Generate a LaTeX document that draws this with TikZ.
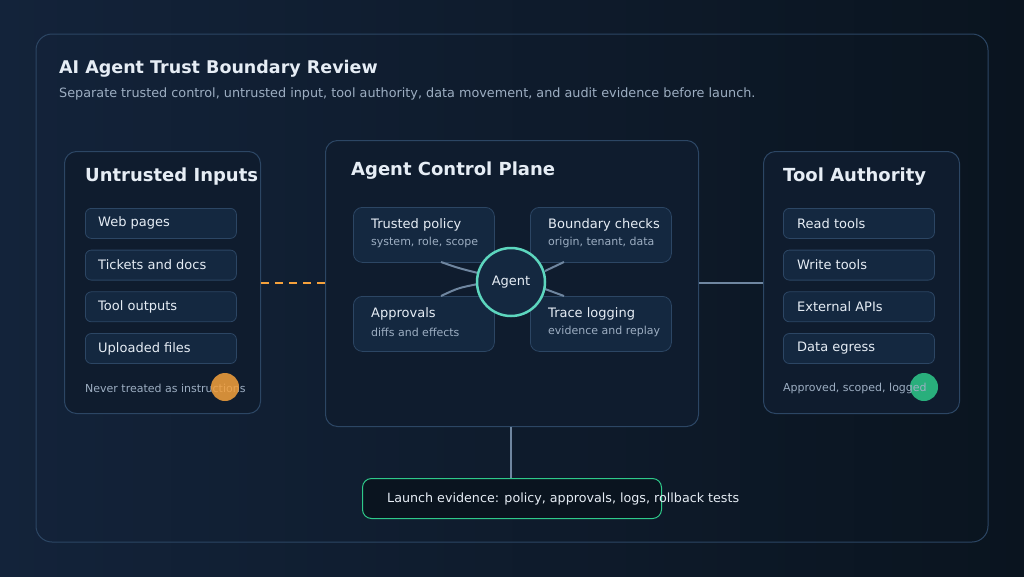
\documentclass[tikz,border=0pt]{standalone}
\usepackage{fontspec}
\setmainfont{DejaVu Sans}
\usetikzlibrary{positioning, calc, shadings}
\definecolor{bgdark}{HTML}{0A141F}
\definecolor{bgmid}{HTML}{13233A}
\definecolor{panelfill}{HTML}{0F1C2E}
\definecolor{boxfill}{HTML}{142840}
\definecolor{edge}{HTML}{2C4664}
\definecolor{txt}{HTML}{E6EDF5}
\definecolor{subtxt}{HTML}{9DAEC2}
\definecolor{link}{HTML}{6F86A0}
\definecolor{teal}{HTML}{5DD6BE}
\definecolor{okgreen}{HTML}{2EC98A}
\definecolor{warn}{HTML}{F5A13C}
\tikzset{
  panel/.style={draw=edge, line width=1pt, fill=panelfill, rounded corners=12pt, anchor=north west, inner sep=0pt},
  item/.style={draw=edge, line width=0.8pt, fill=boxfill, rounded corners=6pt, anchor=north west, minimum width=151pt, minimum height=30pt, inner sep=0pt},
  itemtext/.style={text=txt, font=\fontsize{13}{15}\selectfont, anchor=west, inner sep=0pt},
  sub/.style={draw=edge, line width=0.8pt, fill=boxfill, rounded corners=9pt, anchor=north west, minimum width=141pt, minimum height=55pt, inner sep=0pt},
  heading/.style={text=txt, font=\bfseries\fontsize{18}{21}\selectfont, anchor=west, inner sep=0pt},
  note/.style={text=subtxt, font=\fontsize{11}{13}\selectfont, anchor=west, inner sep=0pt},
  spoke/.style={draw=link, line width=2pt},
}
\begin{document}
\begin{tikzpicture}[x=1pt, y=-1pt]
\shade[left color=bgmid, right color=bgdark] (0,0) rectangle (1024,576);
\useasboundingbox (0,0) rectangle (1024,576);
\draw[edge, line width=1pt, rounded corners=16pt] (36,34) rectangle (988,542);
\node[anchor=west, inner sep=0pt, text=txt, font=\bfseries\fontsize{17.5}{20}\selectfont] (title) at (59,69) {AI Agent Trust Boundary Review};
\node[anchor=west, inner sep=0pt, text=subtxt, font=\fontsize{12.8}{15}\selectfont] (subtitle) at (59,94) {Separate trusted control, untrusted input, tool authority, data movement, and audit evidence before launch.};

% left panel
\node[panel, minimum width=196pt, minimum height=262pt] (inputs) at (64,151) {};
\node[heading] at (85,177) {Untrusted Inputs};
\foreach \t [count=\i] in {Web pages, Tickets and docs, Tool outputs, Uploaded files} {
  \node[item] (in\i) at (85,{208+41.7*(\i-1)}) {};
  \node[itemtext] at ([xshift=13pt]in\i.west) {\t};
}
\node[note] (innote) at (85,388) {Never treated as instructions};
\fill[warn, opacity=0.85] (225,387) circle (14pt);

% right panel
\node[panel, minimum width=196pt, minimum height=262pt] (tools) at (763,151) {};
\node[heading] at (783,177) {Tool Authority};
\foreach \t [count=\i] in {Read tools, Write tools, External APIs, Data egress} {
  \node[item] (tl\i) at (783,{208+41.7*(\i-1)}) {};
  \node[itemtext] at ([xshift=14pt]tl\i.west) {\t};
}
\fill[okgreen, opacity=0.85] (924,387) circle (14pt);
\node[note] (toolnote) at (783,388) {Approved, scoped, logged};

% center panel
\node[panel, minimum width=373pt, minimum height=286pt] (plane) at (325,140) {};
\node[heading] at (351,171) {Agent Control Plane};
\node[sub] (policy) at (353,207) {};
\node[sub] (checks) at (530,207) {};
\node[sub] (approvals) at (353,296) {};
\node[sub] (trace) at (530,296) {};
\foreach \n/\a/\b in {policy/Trusted policy/{system, role, scope}, checks/Boundary checks/{origin, tenant, data}, approvals/Approvals/diffs and effects, trace/Trace logging/evidence and replay} {
  \node[itemtext] at ([xshift=18pt, yshift=10pt]\n.west) {\a};
  \node[note] at ([xshift=18pt, yshift=-8pt]\n.west) {\b};
}
\draw[spoke] (441,262) .. controls (458,268) .. (478,273);
\draw[spoke] (441,296) .. controls (458,288) .. (478,284);
\draw[spoke] (564,262) .. controls (555,266) .. (545,271);
\draw[spoke] (564,296) .. controls (555,292) .. (545,289);
\node[circle, draw=teal, line width=2.5pt, fill=boxfill, minimum size=68pt, inner sep=0pt, text=txt, font=\fontsize{13}{15}\selectfont] (agent) at (511,282) {Agent};

% links
\draw[warn, line width=2pt, dash pattern=on 8pt off 6pt] (inputs.east |- 0,283) -- (plane.west |- 0,283);
\draw[link, line width=2pt] (plane.east |- 0,283) -- (tools.west |- 0,283);
\node[draw=okgreen, line width=1pt, fill=bgdark, rounded corners=9pt, anchor=north west, minimum width=299pt, minimum height=40pt, inner sep=0pt] (evidence) at (362,478) {};
\draw[link, line width=2pt] (plane.south -| 511,0) -- (evidence.north -| 511,0);
\node[itemtext, font=\fontsize{12.7}{15}\selectfont] at (387,499) {Launch evidence: policy, approvals, logs, rollback tests};
\end{tikzpicture}
\end{document}
